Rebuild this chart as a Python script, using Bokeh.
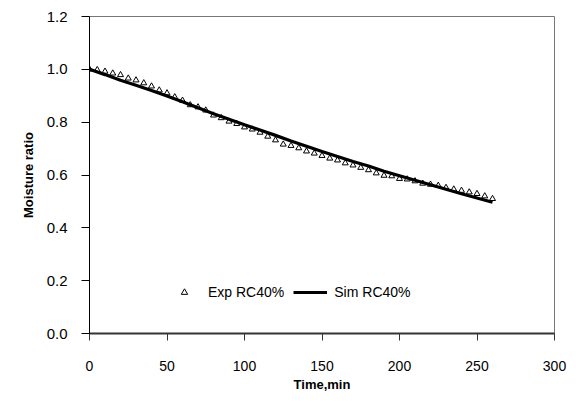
from bokeh.plotting import figure
from bokeh.models import Range1d, FixedTicker, Legend, LegendItem, NumeralTickFormatter
from bokeh.embed import file_html
from bokeh.resources import INLINE

# Experimental data (every 5 min)
exp_time = [0, 5, 10, 15, 20, 25, 30, 35, 40, 45, 50, 55, 60, 65, 70, 75, 80, 85, 90, 95,
            100, 105, 110, 115, 120, 125, 130, 135, 140, 145, 150, 155, 160, 165, 170, 175,
            180, 185, 190, 195, 200, 205, 210, 215, 220, 225, 230, 235, 240, 245, 250, 255, 260]
exp_mr = [1.000, 0.998, 0.992, 0.985, 0.979, 0.966, 0.959, 0.948, 0.936, 0.921, 0.910, 0.895,
          0.882, 0.865, 0.857, 0.845, 0.826, 0.816, 0.803, 0.794, 0.781, 0.773, 0.761, 0.746,
          0.732, 0.716, 0.711, 0.702, 0.690, 0.682, 0.673, 0.663, 0.656, 0.645, 0.637, 0.628,
          0.619, 0.607, 0.598, 0.596, 0.586, 0.584, 0.577, 0.568, 0.564, 0.560, 0.552, 0.546,
          0.541, 0.535, 0.529, 0.520, 0.510]

# Simulated curve
sim_time = [0, 10, 20, 30, 40, 50, 60, 70, 80, 90, 100, 110, 120, 130, 140, 150, 160, 170,
            180, 190, 200, 210, 220, 230, 240, 250, 260]
sim_mr = [1.000, 0.980, 0.959, 0.940, 0.920, 0.899, 0.877, 0.855, 0.832, 0.811, 0.790, 0.770,
          0.750, 0.729, 0.709, 0.689, 0.670, 0.651, 0.634, 0.614, 0.597, 0.580, 0.563, 0.546,
          0.529, 0.513, 0.497]

x_ticks = [0, 50, 100, 150, 200, 250, 300]
y_ticks = [0.0, 0.2, 0.4, 0.6, 0.8, 1.0, 1.2]

FONT = "Liberation Sans"

p = figure(width=568, height=393, output_backend="svg", toolbar_location=None,
           x_range=Range1d(0, 300), y_range=Range1d(0, 1.2),
           min_border_left=89, min_border_right=14, min_border_top=16, min_border_bottom=60)
p.frame_width = 465
p.frame_height = 317

p.xgrid.visible = False
p.ygrid.visible = False
p.outline_line_color = "#777777"
p.outline_line_width = 1
p.background_fill_color = "white"
p.border_fill_color = "white"

# X axis
xa = p.xaxis[0]
xa.ticker = FixedTicker(ticks=x_ticks)
xa.axis_line_color = "#333333"
xa.axis_line_width = 2
xa.major_tick_line_color = "#333333"
xa.major_tick_out = 7
xa.major_tick_in = 0
xa.minor_tick_line_color = None
xa.major_label_standoff = 20
xa.major_label_text_font = FONT
xa.major_label_text_font_size = "14px"
xa.major_label_text_color = "black"
xa.axis_label = "Time,min"
xa.axis_label_text_font = FONT
xa.axis_label_text_font_style = "bold"
xa.axis_label_text_font_size = "13px"
xa.axis_label_standoff = 3
xa.axis_label_text_color = "black"

# Y axis
ya = p.yaxis[0]
ya.ticker = FixedTicker(ticks=y_ticks)
ya.formatter = NumeralTickFormatter(format="0.0")
ya.axis_line_color = "black"
ya.axis_line_width = 1
ya.major_tick_line_color = "black"
ya.major_tick_out = 8
ya.major_tick_in = 0
ya.minor_tick_line_color = None
ya.major_label_standoff = 14
ya.major_label_text_font = FONT
ya.major_label_text_font_size = "15px"
ya.major_label_text_color = "black"
ya.axis_label = "Moisture ratio"
ya.axis_label_text_font = FONT
ya.axis_label_text_font_style = "bold"
ya.axis_label_text_font_size = "13px"
ya.axis_label_standoff = 8
ya.axis_label_text_color = "black"

r_exp = p.scatter(exp_time, exp_mr, marker="triangle", size=6, fill_color="white",
                  line_color="black", line_width=1)
r_sim = p.line(sim_time, sim_mr, line_color="black", line_width=3.2)

legend = Legend(items=[LegendItem(label="Exp RC40%", renderers=[r_exp]),
                       LegendItem(label="Sim RC40%", renderers=[r_sim])],
                location=(78, 33), orientation="horizontal")
legend.background_fill_alpha = 0
legend.border_line_color = None
legend.padding = 0
legend.margin = 0
legend.spacing = 9
legend.glyph_width = 34
legend.glyph_height = 16
legend.label_height = 16
legend.label_standoff = 7
legend.label_text_font = FONT
legend.label_text_font_size = "14px"
legend.label_text_color = "black"
p.add_layout(legend, "center")

open("out.html", "w").write(file_html(p, INLINE))
